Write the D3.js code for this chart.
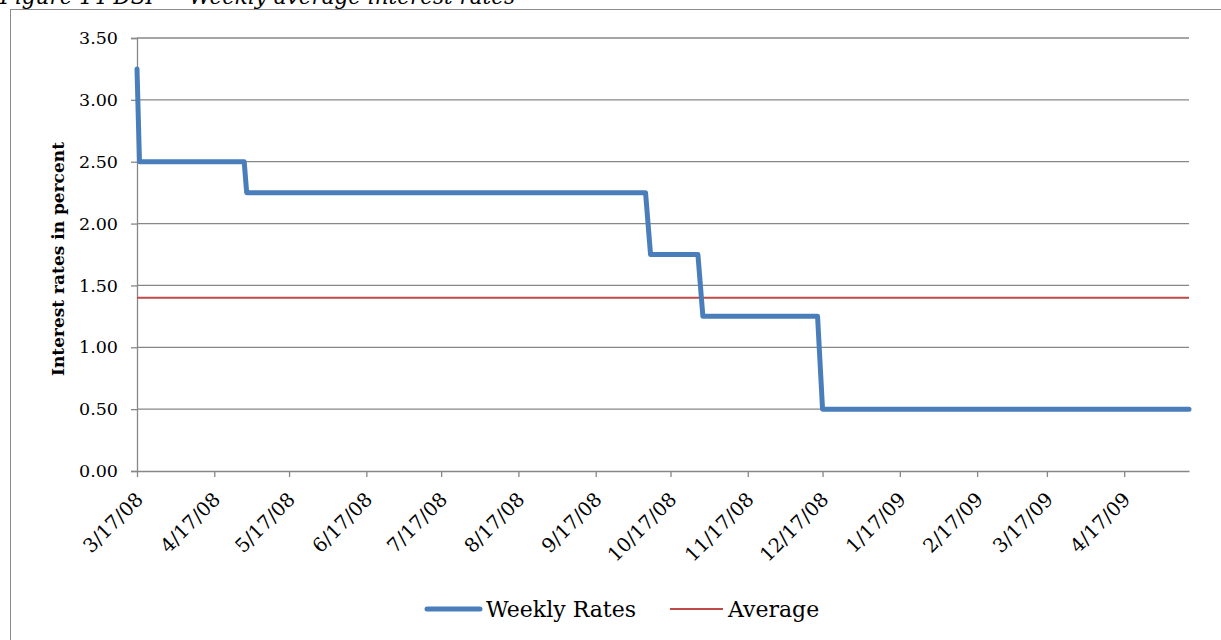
<!DOCTYPE html>
<html>
<head>
<meta charset="utf-8">
<script src="https://cdn.jsdelivr.net/npm/d3@7"></script>
<style>
  body { margin: 0; background: #fff; }
  svg { display: block; font-family: "DejaVu Serif", serif; }
</style>
</head>
<body>
<div id="chart"></div>
<script>
// rate change points (date, percent)
const rateDates = ["2008-03-17", "2008-03-18", "2008-04-29", "2008-04-30",
                   "2008-10-07", "2008-10-09", "2008-10-28", "2008-10-30",
                   "2008-12-15", "2008-12-17", "2009-05-13"];
const rateValues = [3.25, 2.50, 2.50, 2.25, 2.25, 1.75, 1.75, 1.25, 1.25, 0.50, 0.50];
const averageRate = 1.40;

const xStart = "2008-03-17";
const xEnd = "2009-05-13";
const xTickDates = ["2008-03-17", "2008-04-17", "2008-05-17", "2008-06-17", "2008-07-17",
                    "2008-08-17", "2008-09-17", "2008-10-17", "2008-11-17", "2008-12-17",
                    "2009-01-17", "2009-02-17", "2009-03-17", "2009-04-17"];
const yTicks = [0, 0.5, 1, 1.5, 2, 2.5, 3, 3.5];

const seriesNames = ["Weekly Rates", "Average"];
const captionText = "Figure 14 DSI — Weekly average interest rates";

const W = 1221, H = 640;
const margin = { top: 38, right: 32, bottom: 169, left: 137 };
const width = W - margin.left - margin.right;
const height = H - margin.top - margin.bottom;

const parse = d3.utcParse("%Y-%m-%d");
const fmt = d3.utcFormat("%-m/%-d/%y");
const data = rateDates.map((d, i) => ({ date: parse(d), value: rateValues[i] }));

const svg = d3.select("#chart").append("svg")
    .attr("width", W).attr("height", H);

// outer chart frame (runs off the page on the right and bottom)
svg.append("rect")
    .attr("x", 10.5).attr("y", 9.5)
    .attr("width", 1400).attr("height", 800)
    .attr("fill", "none").attr("stroke", "#8c8c8c").attr("stroke-width", 1);

// caption, cropped at the top edge like the source
svg.append("text")
    .attr("x", 0).attr("y", 4)
    .attr("font-style", "italic")
    .attr("font-size", 21.5)
    .attr("fill", "#000")
    .text(captionText);

const g = svg.append("g").attr("transform", `translate(${margin.left},${margin.top})`);

const x = d3.scaleUtc().domain([parse(xStart), parse(xEnd)]).range([0, width]);
const y = d3.scaleLinear().domain([0, 3.5]).range([height, 0]);

const gridColor = "#878787";

// horizontal gridlines
g.append("g").selectAll("line")
    .data(yTicks.filter(d => d > 0))
    .enter().append("line")
    .attr("x1", 0).attr("x2", width)
    .attr("y1", d => y(d)).attr("y2", d => y(d))
    .attr("stroke", gridColor).attr("stroke-width", 1.3);

// y axis
const yAxis = g.append("g")
    .call(d3.axisLeft(y).tickValues(yTicks).tickFormat(d3.format(".2f")).tickSize(6).tickPadding(13));
yAxis.select(".domain").attr("stroke", gridColor).attr("stroke-width", 1.3);
yAxis.selectAll(".tick line").attr("stroke", gridColor).attr("stroke-width", 1.3);
yAxis.selectAll(".tick text")
    .attr("font-family", "DejaVu Serif").attr("font-size", 17.5).attr("fill", "#000");

// x axis
const xAxis = g.append("g")
    .attr("transform", `translate(0,${height})`)
    .call(d3.axisBottom(x).tickValues(xTickDates.map(parse)).tickFormat(fmt).tickSize(6).tickSizeOuter(0));
xAxis.select(".domain").attr("stroke", gridColor).attr("stroke-width", 1.3);
xAxis.selectAll(".tick line").attr("stroke", gridColor).attr("stroke-width", 1.3);
xAxis.selectAll(".tick text")
    .attr("font-family", "DejaVu Serif").attr("font-size", 19.5).attr("fill", "#000")
    .attr("text-anchor", "end")
    .attr("transform", "translate(-3,20) rotate(-45)")
    .attr("dy", "0.71em").attr("y", 0).attr("x", 0);

// y axis title
svg.append("text")
    .attr("transform", "translate(64,259) rotate(-90)")
    .attr("text-anchor", "middle")
    .attr("font-weight", "bold")
    .attr("font-size", 17)
    .text("Interest rates in percent");

// average line
g.append("line")
    .attr("x1", 0).attr("x2", width)
    .attr("y1", y(averageRate)).attr("y2", y(averageRate))
    .attr("stroke", "#be4b48").attr("stroke-width", 2);

// weekly rate line
g.append("path")
    .datum(data)
    .attr("fill", "none")
    .attr("stroke", "#4a7ebb")
    .attr("stroke-width", 5)
    .attr("stroke-linejoin", "round")
    .attr("stroke-linecap", "round")
    .attr("d", d3.line().x(d => x(d.date)).y(d => y(d.value)));

// legend
const legend = svg.append("g").attr("transform", "translate(0,609)");
legend.append("line")
    .attr("x1", 427).attr("x2", 480).attr("y1", 0).attr("y2", 0)
    .attr("stroke", "#4a7ebb").attr("stroke-width", 5).attr("stroke-linecap", "round");
legend.append("text")
    .attr("x", 486).attr("y", 8)
    .attr("font-size", 22)
    .text(seriesNames[0]);
legend.append("line")
    .attr("x1", 670).attr("x2", 723).attr("y1", 0).attr("y2", 0)
    .attr("stroke", "#be4b48").attr("stroke-width", 2);
legend.append("text")
    .attr("x", 728).attr("y", 8)
    .attr("font-size", 22)
    .text(seriesNames[1]);
</script>
</body>
</html>
